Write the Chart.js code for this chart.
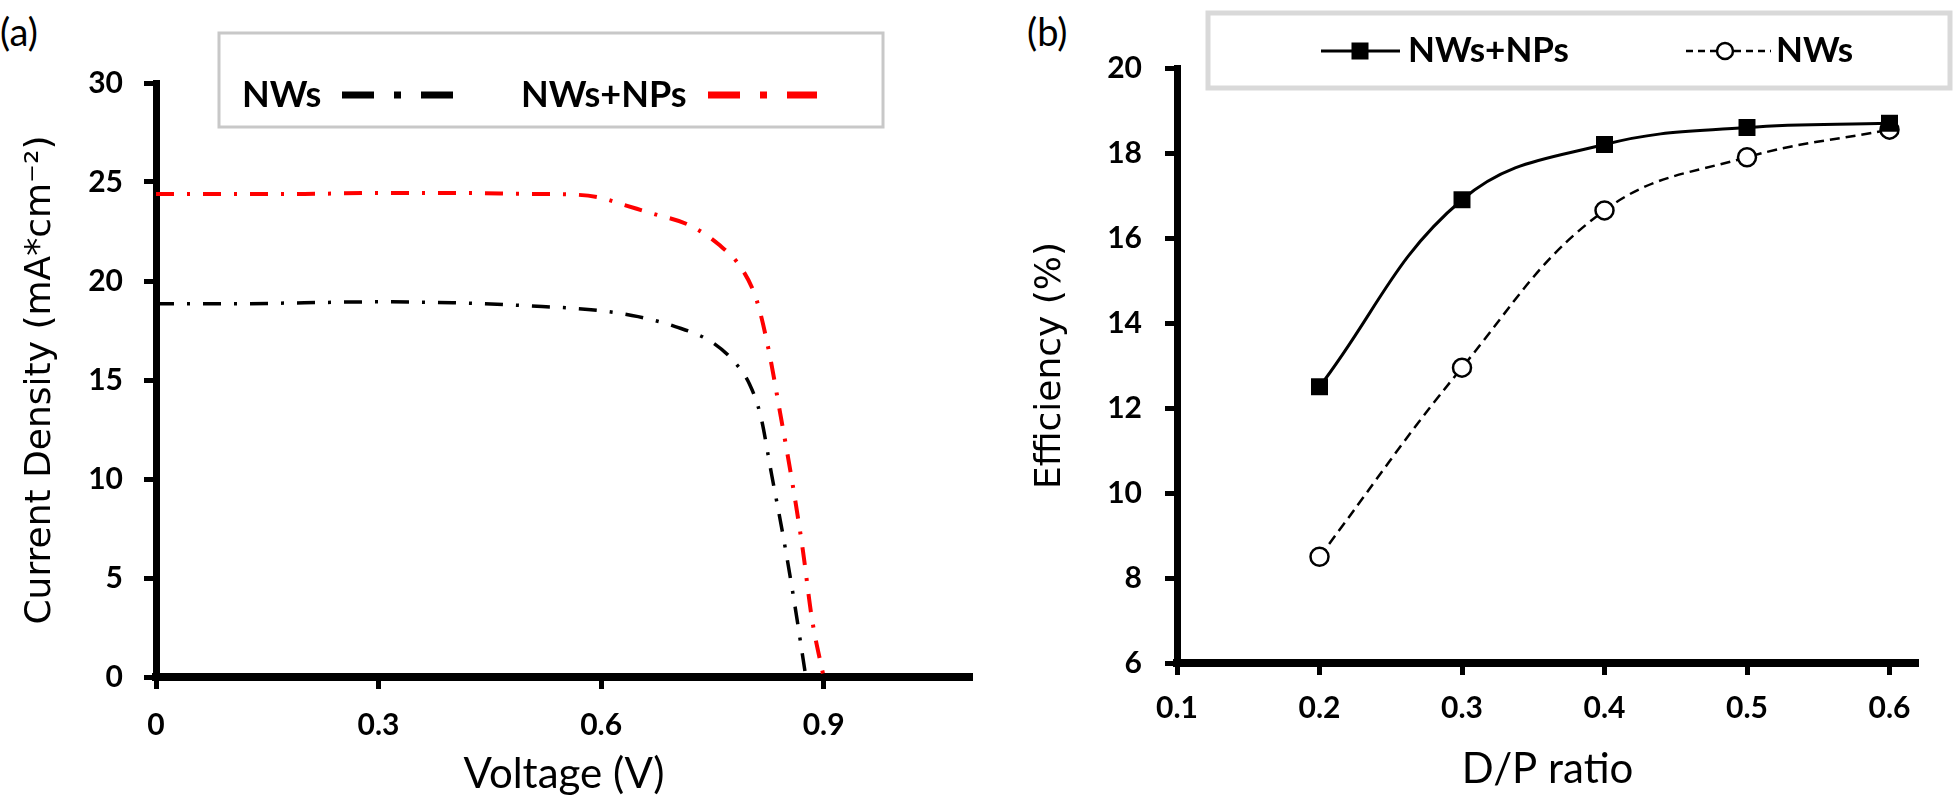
<!DOCTYPE html>
<html>
<head>
<meta charset="utf-8">
<script src="https://cdn.jsdelivr.net/npm/chart.js@4.4.1/dist/chart.umd.min.js"></script>
<style>
  body { margin: 0; background: #fff; width: 1960px; height: 807px; position: relative; overflow: hidden; }
  .panel { position: absolute; top: 0; height: 807px; }
  #wrapA { left: 0; width: 980px; }
  #wrapB { left: 980px; width: 980px; }
  .tag { position: absolute; top: 12px; font: 38px Lato, sans-serif; line-height: 1; color: #000; }
</style>
</head>
<body>
<div class="tag" style="left:0">(a)</div>
<div class="tag" style="left:1027px">(b)</div>
<div class="panel" id="wrapA"><canvas id="chartA"></canvas></div>
<div class="panel" id="wrapB"><canvas id="chartB"></canvas></div>

<script>
// panel (a): J-V curves
const voltageNWs = [0, 0.1, 0.2, 0.3, 0.4, 0.5, 0.6, 0.65, 0.7, 0.75, 0.78, 0.8, 0.815, 0.83, 0.846, 0.86, 0.876]
const currentNWs = [18.85, 18.85, 18.9, 18.95, 18.9, 18.75, 18.5, 18.2, 17.7, 16.9, 15.9, 14.8, 13.2, 10.2, 7.0, 3.9, 0]
const voltageNWsNPs = [0, 0.1, 0.2, 0.3, 0.4, 0.5, 0.57, 0.6, 0.63, 0.67, 0.72, 0.76, 0.79, 0.81, 0.826, 0.842, 0.857, 0.872, 0.884, 0.9]
const currentNWsNPs = [24.4, 24.4, 24.4, 24.45, 24.45, 24.4, 24.35, 24.2, 23.85, 23.4, 22.8, 21.8, 20.6, 19.0, 16.5, 13.2, 10.0, 6.4, 3.0, 0]

// panel (b): efficiency vs D/P ratio
const dpRatio = [0.2, 0.3, 0.4, 0.5, 0.6]
const effNWsNPs = [12.5, 16.9, 18.2, 18.6, 18.7]
const effNWs = [8.5, 12.95, 16.65, 17.9, 18.55]

const toXY = (xs, ys) => xs.map((x, i) => ({ x: x, y: ys[i] }))

const tickFont = { family: 'Lato', weight: 'bold', size: 30 }

// legend box drawn the Excel way (text + sample inside a grey frame)
const boxLegend = {
  id: 'boxLegend',
  afterDraw(chart, args, opts) {
    if (!opts.items) return
    const ctx = chart.ctx
    ctx.save()
    ctx.strokeStyle = opts.borderColor
    ctx.lineWidth = opts.borderWidth
    ctx.strokeRect(opts.x, opts.y, opts.w, opts.h)
    ctx.font = opts.font
    ctx.textBaseline = 'middle'
    ctx.fillStyle = '#000'
    const cy = opts.textY
    opts.items.forEach(it => {
      const ds = chart.data.datasets[it.index]
      ctx.fillText(ds.label, it.textX, cy)
      ctx.save()
      ctx.strokeStyle = ds.borderColor
      ctx.lineWidth = it.lineWidth
      ctx.setLineDash(it.dash || [])
      ctx.beginPath()
      ctx.moveTo(it.x0, cy)
      ctx.lineTo(it.x1, cy)
      ctx.stroke()
      ctx.setLineDash([])
      if (it.marker == 'rect') {
        ctx.fillStyle = ds.borderColor
        ctx.fillRect(it.mx - it.size / 2, cy - it.size / 2, it.size, it.size)
      } else if (it.marker == 'circle') {
        ctx.fillStyle = '#fff'
        ctx.lineWidth = 2.5
        ctx.beginPath()
        ctx.arc(it.mx, cy, it.size / 2, 0, Math.PI * 2)
        ctx.fill()
        ctx.stroke()
      }
      ctx.restore()
    })
    ctx.restore()
  }
}

const chartA = new Chart(document.getElementById('chartA'), {
  type: 'line',
  data: {
    datasets: [{
      label: 'NWs',
      data: toXY(voltageNWs, currentNWs),
      borderColor: '#000',
      borderWidth: 3.5,
      borderDash: [18, 13, 3, 13],
      pointRadius: 0,
      cubicInterpolationMode: 'monotone',
    },
    {
      label: 'NWs+NPs',
      data: toXY(voltageNWsNPs, currentNWsNPs),
      borderColor: '#ff0000',
      borderWidth: 4,
      borderDash: [18, 13, 3, 13],
      pointRadius: 0,
      cubicInterpolationMode: 'monotone',
    }]
  },
  options: {
    responsive: true,
    maintainAspectRatio: false,
    animation: false,
    layout: { padding: { top: 83, right: 8, left: 0, bottom: 0 } },
    plugins: {
      legend: { display: false },
      tooltip: { enabled: false },
      boxLegend: {
        x: 219, y: 33, w: 664, h: 94, textY: 95,
        borderColor: '#c8c8c8', borderWidth: 3,
        font: 'bold 36px Lato',
        items: [
          { index: 0, textX: 242, x0: 342, x1: 453, lineWidth: 7, dash: [32, 20, 7, 20] },
          { index: 1, textX: 521, x0: 708, x1: 817, lineWidth: 7, dash: [32, 20, 7, 20] }
        ]
      }
    },
    scales: {
      x: {
        type: 'linear',
        min: 0,
        max: 1.1,
        ticks: {
          stepSize: 0.3,
          includeBounds: false,
          font: tickFont,
          color: '#000',
          padding: 18,
          callback: v => v == 0 ? '0' : v.toFixed(1)
        },
        grid: { drawOnChartArea: false, tickLength: 12, tickWidth: 5, color: '#000' },
        border: { width: 8, color: '#000' },
        title: { display: true, text: 'Voltage (V)', color: '#000', font: { family: 'Lato', size: 42 }, padding: { top: 0, bottom: 7 } },
        afterFit: s => { s.height = 130 }
      },
      y: {
        min: 0,
        max: 30,
        ticks: { stepSize: 5, font: tickFont, color: '#000', padding: 21 },
        grid: { drawOnChartArea: false, tickLength: 12, tickWidth: 5, color: '#000' },
        border: { width: 7, color: '#000' },
        title: { display: true, text: 'Current Density (mA*cm⁻²)', color: '#000', font: { family: 'DejaVu Sans', size: 36 }, padding: { top: 19, bottom: 0 } },
        afterFit: s => { s.width = 156 }
      }
    }
  },
  plugins: [boxLegend]
})

const chartB = new Chart(document.getElementById('chartB'), {
  type: 'line',
  data: {
    datasets: [{
      label: 'NWs+NPs',
      data: toXY(dpRatio, effNWsNPs),
      borderColor: '#000',
      borderWidth: 3,
      pointStyle: 'rect',
      pointRadius: 12,
      pointBackgroundColor: '#000',
      pointBorderWidth: 0,
      tension: 0.4,
    },
    {
      label: 'NWs',
      data: toXY(dpRatio, effNWs),
      borderColor: '#000',
      borderWidth: 2.5,
      borderDash: [10, 6],
      pointStyle: 'circle',
      pointRadius: 9,
      pointBackgroundColor: '#fff',
      pointBorderWidth: 2.5,
      tension: 0.4,
    }]
  },
  options: {
    responsive: true,
    maintainAspectRatio: false,
    animation: false,
    layout: { padding: { top: 68, right: 42, left: 0, bottom: 0 } },
    plugins: {
      legend: { display: false },
      tooltip: { enabled: false },
      boxLegend: {
        x: 228, y: 13, w: 742, h: 75, textY: 51,
        borderColor: '#d9d9d9', borderWidth: 5,
        font: 'bold 35px Lato',
        items: [
          { index: 0, textX: 428, x0: 341, x1: 420, lineWidth: 3, marker: 'rect', mx: 380, size: 17 },
          { index: 1, textX: 796, x0: 706, x1: 791, lineWidth: 2.5, dash: [7, 5], marker: 'circle', mx: 745, size: 16 }
        ]
      }
    },
    scales: {
      x: {
        type: 'linear',
        min: 0.1,
        max: 0.62,
        ticks: {
          stepSize: 0.1,
          includeBounds: false,
          font: tickFont,
          color: '#000',
          padding: 15,
          callback: v => v.toFixed(1)
        },
        grid: { drawOnChartArea: false, tickLength: 12, tickWidth: 5, color: '#000' },
        border: { width: 8, color: '#000' },
        title: { display: true, text: 'D/P ratio', color: '#000', font: { family: 'Lato', size: 42 }, padding: { top: 0, bottom: 12 } },
        afterFit: s => { s.height = 144 }
      },
      y: {
        min: 6,
        max: 20,
        ticks: { stepSize: 2, font: tickFont, color: '#000', padding: 23 },
        grid: { drawOnChartArea: false, tickLength: 12, tickWidth: 5, color: '#000' },
        border: { width: 7, color: '#000' },
        title: { display: true, text: 'Efficiency (%)', color: '#000', font: { family: 'DejaVu Sans', size: 36 }, padding: { top: 49, bottom: 0 } },
        afterFit: s => { s.width = 197 }
      }
    }
  },
  plugins: [boxLegend]
})
</script>
</body>
</html>
